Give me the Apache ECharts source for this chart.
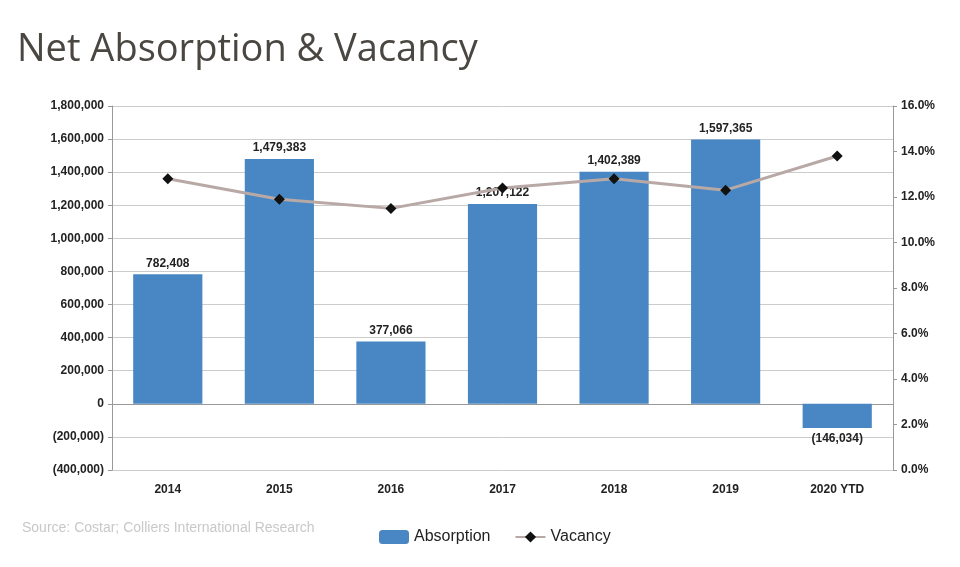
<!DOCTYPE html>
<html lang="en">
<head>
<meta charset="UTF-8">
<script src="https://cdn.jsdelivr.net/npm/echarts@6.0.0/dist/echarts.min.js"></script>
<title>Net Absorption & Vacancy</title>
<style>body{margin:0;background:#fff;}</style>
</head>
<body>
<div id="main" style="width:960px;height:567px;"></div>
<script>
var years = ['2014', '2015', '2016', '2017', '2018', '2019', '2020 YTD'];
var absorption = [782408, 1479383, 377066, 1207122, 1402389, 1597365, -146034];
var vacancy = [12.8, 11.9, 11.5, 12.4, 12.8, 12.3, 13.8];

var chart = echarts.init(document.getElementById('main'));

function fmtNum(v) {
  var s = Math.abs(v).toLocaleString('en-US');
  return v < 0 ? '(' + s + ')' : s;
}

var option = {
  animation: false,
  textStyle: { fontFamily: 'Liberation Sans, Arial, sans-serif' },
  title: {
    text: 'Net Absorption & Vacancy',
    left: 12, top: 26,
    textStyle: { fontSize: 38, fontWeight: 'normal', color: '#4a4641', fontFamily: 'Open Sans, sans-serif' }
  },
  graphic: [{
    type: 'text', left: 22, top: 521,
    style: { text: 'Source: Costar; Colliers International Research', fill: '#c8c8c8', fontSize: 14, fontFamily: 'Liberation Sans, Arial' }
  }],
  legend: {
    data: ['Absorption', 'Vacancy'],
    left: 374, top: 524, itemGap: 24, itemWidth: 30, itemHeight: 14,
    textStyle: { fontSize: 16, color: '#222' }
  },
  grid: { left: 112, right: 67, top: 106, bottom: 97 },
  xAxis: {
    type: 'category', data: years,
    axisLine: { lineStyle: { color: '#999' } },
    axisTick: { show: false },
    axisLabel: { color: '#222', fontWeight: 'bold', fontSize: 12, margin: 14 }
  },
  yAxis: [{
    type: 'value', min: -400000, max: 1800000, interval: 200000,
    axisLine: { show: true, lineStyle: { color: '#999' } },
    axisTick: { show: true, length: 4 },
    splitLine: { lineStyle: { color: '#ccc' } },
    axisLabel: { color: '#222', fontWeight: 'bold', fontSize: 12, formatter: fmtNum }
  }, {
    type: 'value', min: 0, max: 16, interval: 2,
    axisLine: { show: true, lineStyle: { color: '#999' } },
    axisTick: { show: true, length: 4 },
    splitLine: { show: false },
    axisLabel: { color: '#222', fontWeight: 'bold', fontSize: 12, formatter: function (v) { return v.toFixed(1) + '%'; } }
  }],
  series: [{
    name: 'Absorption', type: 'bar', data: absorption, barWidth: '62%',
    itemStyle: { color: '#4887c3' },
    label: {
      show: true, color: '#222', fontWeight: 'bold', fontSize: 12,
      formatter: function (p) { return fmtNum(p.value); },
      position: 'top'
    }
  }, {
    name: 'Vacancy', type: 'line', yAxisIndex: 1, data: vacancy,
    symbol: 'diamond', symbolSize: 11, z: 5,
    lineStyle: { color: '#b8a9a6', width: 3 },
    itemStyle: { color: '#111' }
  }]
};
option.series[0].data = absorption.map(function (v) {
  return v < 0 ? { value: v, label: { position: 'bottom' } } : v;
});
chart.setOption(option);
</script>
</body>
</html>
